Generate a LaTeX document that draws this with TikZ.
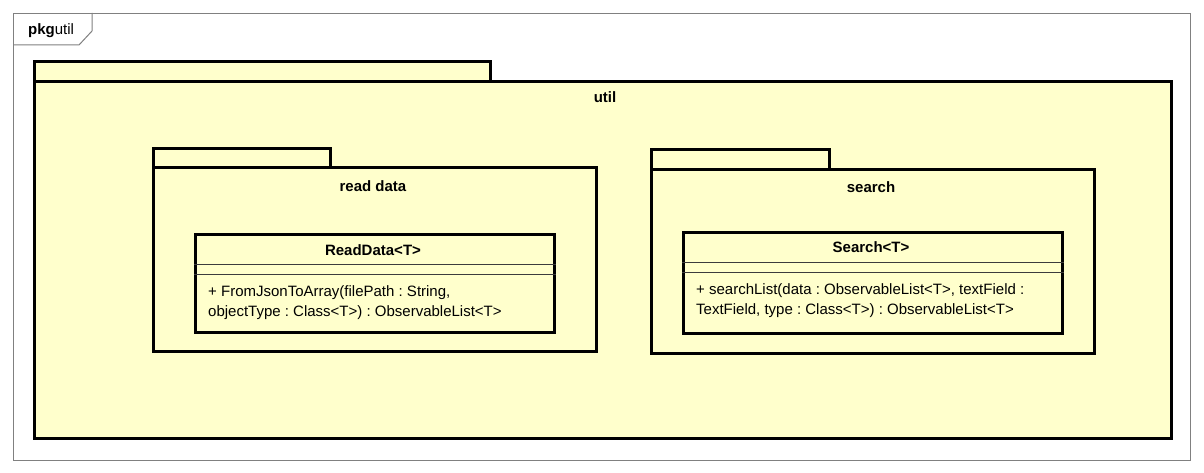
\documentclass[tikz,border=0pt]{standalone}
\usepackage{fontspec}
\setmainfont{Liberation Sans}
\frenchspacing
\definecolor{pkgfill}{RGB}{255,255,204}
\definecolor{sepgray}{RGB}{60,60,60}
\tikzset{
  pkgtab/.style={draw, line width=3pt, fill=pkgfill, anchor=north west, inner sep=0},
  pkgbody/.style={draw, line width=3pt, fill=pkgfill, anchor=north west, inner sep=0},
  classbox/.style={draw, line width=3pt, fill=pkgfill, anchor=north west, inner sep=0},
  pkglabel/.style={font=\fontsize{15}{18}\selectfont\bfseries},
  classtitle/.style={font=\fontsize{15}{18}\selectfont\bfseries},
  oplabel/.style={font=\fontsize{15}{20.5}\selectfont, align=left, anchor=north west, inner sep=0},
  sepline/.style={draw=sepgray, line width=1pt}
}
\begin{document}
\begin{tikzpicture}[x=1pt,y=-1pt]
  \useasboundingbox (0,0) rectangle (1204,473);
  % outer frame
  \node[draw=gray, line width=1pt, anchor=north west, inner sep=0,
        minimum width=1177, minimum height=447] (frame) at (13,13) {};
  \draw[gray, line width=1pt] (92,13) -- (92,31) -- (79,45) -- (13,45);
  \node[anchor=west, inner sep=0, font=\fontsize{15}{18}\selectfont] (frametitle) at (28,31)
    {\textbf{pkg}util};
  % util package
  \node[pkgtab, minimum width=456, minimum height=20] (utiltab) at (33,60) {};
  \node[pkgbody, minimum width=1137, minimum height=357] (util) at (33,80) {};
  \node[pkglabel] (utillabel) at (605,97) {util};
  % read data package
  \node[pkgtab, minimum width=177, minimum height=20] (readtab) at (152,147) {};
  \node[pkgbody, minimum width=443, minimum height=184] (readpkg) at (152,166) {};
  \node[pkglabel] (readlabel) at (373,186) {read data};
  \node[classbox, minimum width=359, minimum height=98] (readdata) at (194,233) {};
  \node[classtitle] (readtitle) at (373,250) {ReadData<T>};
  \draw[sepline] (readdata.west |- 0,264) -- (readdata.east |- 0,264);
  \draw[sepline] (readdata.west |- 0,274) -- (readdata.east |- 0,274);
  \node[oplabel] (readop) at (208,285)
    {+ FromJsonToArray(filePath : String,\\objectType : Class<T>) : ObservableList<T>};
  % search package
  \node[pkgtab, minimum width=178, minimum height=20] (searchtab) at (650,148) {};
  \node[pkgbody, minimum width=443, minimum height=184] (searchpkg) at (650,168) {};
  \node[pkglabel] (searchlabel) at (871,187) {search};
  \node[classbox, minimum width=379, minimum height=101] (search) at (682,231) {};
  \node[classtitle] (searchtitle) at (871,247) {Search<T>};
  \draw[sepline] (search.west |- 0,262) -- (search.east |- 0,262);
  \draw[sepline] (search.west |- 0,272) -- (search.east |- 0,272);
  \node[oplabel] (searchop) at (696,283)
    {+ searchList(data : ObservableList<T>, textField :\\TextField, type : Class<T>) : ObservableList<T>};
\end{tikzpicture}
\end{document}
